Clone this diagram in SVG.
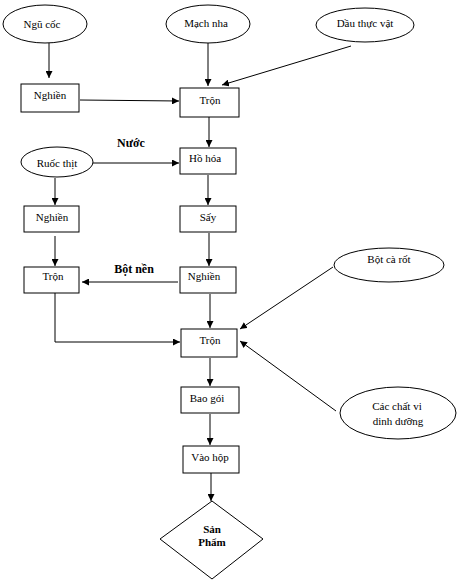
<svg xmlns="http://www.w3.org/2000/svg" width="460" height="584" viewBox="0 0 460 584">
<defs>
<marker id="ah" viewBox="0 0 10 10" refX="10" refY="5" markerWidth="7" markerHeight="7" markerUnits="userSpaceOnUse" orient="auto">
<path d="M0,0 L10,5 L0,10 Z" fill="#000"/>
</marker>
<style>
.n{fill:#fff;stroke:#000;stroke-width:1}
.t{font-family:"Liberation Serif","Times New Roman",serif;font-size:11px;fill:#000;text-anchor:middle}
.b{font-weight:bold;font-size:12px}
.c{fill:none;stroke:#000;stroke-width:1;marker-end:url(#ah)}
</style>
</defs>
<rect width="460" height="584" fill="#fff"/>
<g id="connectors">
<line class="c" x1="49" y1="43" x2="49" y2="78"/>
<line class="c" x1="208" y1="43" x2="208" y2="86"/>
<line class="c" x1="351" y1="46" x2="222" y2="85"/>
<line class="c" x1="80" y1="100" x2="179" y2="101"/>
<line class="c" x1="209" y1="117" x2="209" y2="147"/>
<line class="c" x1="93" y1="163" x2="179" y2="163"/>
<line class="c" x1="55" y1="178" x2="55" y2="205"/>
<line class="c" x1="208" y1="175" x2="208" y2="205"/>
<line class="c" x1="55" y1="236" x2="55" y2="266"/>
<line class="c" x1="209" y1="233" x2="209" y2="266"/>
<line class="c" x1="178" y1="282" x2="82" y2="282"/>
<polyline class="c" points="55,293 55,342 180,342"/>
<line class="c" x1="210" y1="294" x2="210" y2="328"/>
<line class="c" x1="333" y1="267" x2="240" y2="329"/>
<line class="c" x1="336" y1="411" x2="240" y2="341"/>
<line class="c" x1="210" y1="358" x2="210" y2="386"/>
<line class="c" x1="210" y1="414" x2="210" y2="445"/>
<line class="c" x1="211" y1="473" x2="211" y2="501"/>
</g>
<g id="ngu-coc"><ellipse class="n" cx="45" cy="24" rx="42" ry="19"/><text class="t" x="42" y="28">Ngũ cốc</text></g>
<g id="mach-nha"><ellipse class="n" cx="208" cy="24" rx="42" ry="19"/><text class="t" x="206" y="27">Mạch nha</text></g>
<g id="dau-thuc-vat"><ellipse class="n" cx="365" cy="25" rx="49" ry="17"/><text class="t" x="365" y="27">Dầu thực vật</text></g>
<g id="nghien1"><rect class="n" x="21" y="84" width="58" height="28"/><text class="t" x="50" y="99">Nghiền</text></g>
<g id="tron1"><rect class="n" x="180" y="88" width="59" height="29"/><text class="t" x="210" y="104">Trộn</text></g>
<g id="ruoc-thit"><ellipse class="n" cx="57" cy="162" rx="36" ry="15"/><text class="t" x="57" y="167">Ruốc thịt</text></g>
<text class="t b" x="131" y="147">Nước</text>
<g id="ho-hoa"><rect class="n" x="180" y="148" width="56" height="26"/><text class="t" x="205" y="162">Hồ hóa</text></g>
<g id="nghien2"><rect class="n" x="24" y="206" width="55" height="26"/><text class="t" x="52" y="221">Nghiền</text></g>
<g id="say"><rect class="n" x="180" y="206" width="56" height="26"/><text class="t" x="208" y="221">Sấy</text></g>
<g id="tron2"><rect class="n" x="24" y="267" width="55" height="26"/><text class="t" x="53" y="280">Trộn</text></g>
<text class="t b" x="134" y="273">Bột nền</text>
<g id="nghien3"><rect class="n" x="180" y="267" width="56" height="26"/><text class="t" x="204" y="280">Nghiền</text></g>
<g id="bot-ca-rot"><ellipse class="n" cx="389" cy="265" rx="55" ry="17"/><text class="t" x="389" y="263">Bột cà rốt</text></g>
<g id="tron3"><rect class="n" x="181" y="329" width="56" height="28"/><text class="t" x="210" y="344">Trộn</text></g>
<g id="vi-chat"><ellipse class="n" cx="398" cy="413" rx="58" ry="26"/><text class="t" x="397" y="410">Các chất vi</text><text class="t" x="398" y="425">dinh dưỡng</text></g>
<g id="bao-goi"><rect class="n" x="181" y="387" width="58" height="26"/><text class="t" x="207" y="402">Bao gói</text></g>
<g id="vao-hop"><rect class="n" x="183" y="446" width="56" height="27"/><text class="t" x="210" y="461">Vào hộp</text></g>
<g id="san-pham"><polygon class="n" points="212,501 263,539 212,579 160,539"/><text class="t b" x="212" y="533" style="font-size:11px">Sản</text><text class="t b" x="212" y="546" style="font-size:11px">Phẩm</text></g>
</svg>
